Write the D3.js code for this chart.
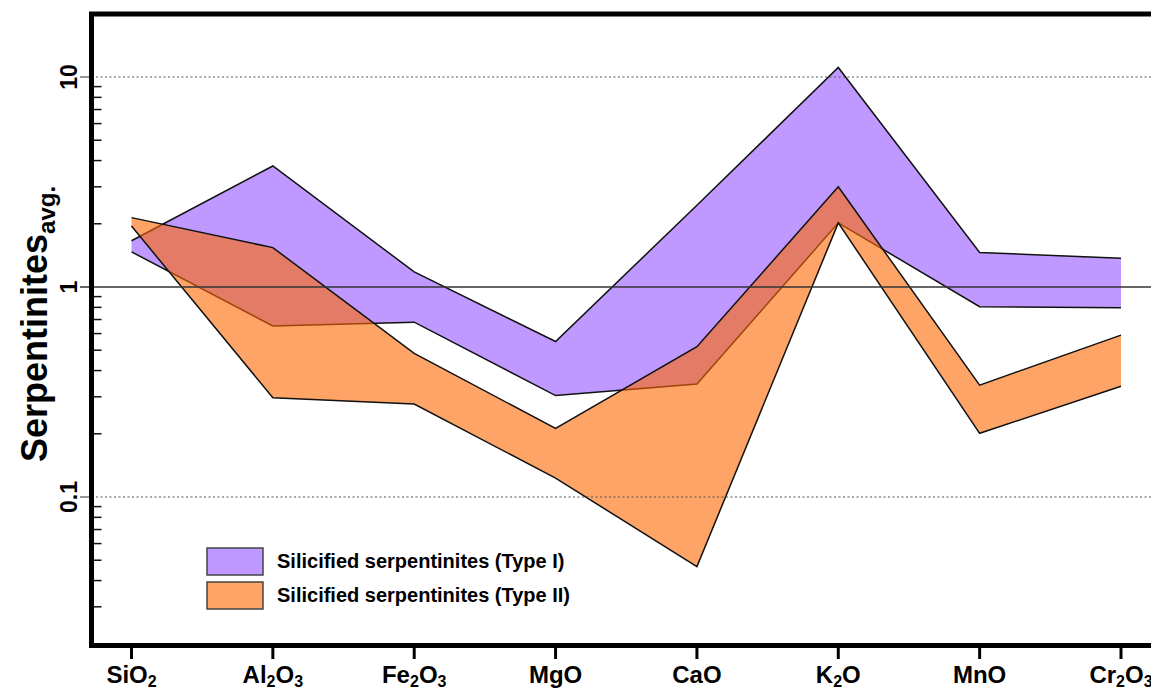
<!DOCTYPE html>
<html>
<head>
<meta charset="utf-8">
<script src="https://cdn.jsdelivr.net/npm/d3@7"></script>
<style>
  body { margin: 0; background: #fff; }
  text { font-family: "Liberation Sans", Arial, sans-serif; font-weight: bold; }
</style>
</head>
<body>
<svg id="chart"></svg>
<script>
const categories = ["SiO2", "Al2O3", "Fe2O3", "MgO", "CaO", "K2O", "MnO", "Cr2O3"];
// Type I band (upper / lower)
const type1_upper = [1.66, 3.77, 1.18, 0.55, 2.45, 11.1, 1.46, 1.37];
const type1_lower = [1.47, 0.652, 0.68, 0.304, 0.345, 2.02, 0.806, 0.797];
// Type II band (upper / lower)
const type2_upper = [2.14, 1.54, 0.483, 0.212, 0.52, 3.0, 0.341, 0.59];
const type2_lower = [1.95, 0.297, 0.277, 0.123, 0.0466, 2.02, 0.201, 0.337];
const major_ticks = [0.1, 1, 10];
const minor_ticks = [0.02, 0.03, 0.04, 0.05, 0.06, 0.07, 0.08, 0.09,
                     0.2, 0.3, 0.4, 0.5, 0.6, 0.7, 0.8, 0.9,
                     2, 3, 4, 5, 6, 7, 8, 9];
const legend_labels = ["Silicified serpentinites (Type I)", "Silicified serpentinites (Type II)"];

const width = 1151;
const height = 690;
const frame_l = 91.5, frame_t = 14, frame_b = 645.5, frame_r = 1175;
const purple = "#bf99ff";
const orange = "rgb(252,103,0)";

var svg = d3.select("#chart").attr("width", width).attr("height", height);

var x = d3.scalePoint().domain(categories).range([131.5, 1121]);
var y = d3.scaleLog().domain([0.1, 10]).range([497, 77]);

function band(upper, lower) {
    return categories.map((c, i) => ({ c: c, hi: upper[i], lo: lower[i] }));
}

var area = d3.area().x(d => x(d.c)).y0(d => y(d.lo)).y1(d => y(d.hi));
var lineHi = d3.line().x(d => x(d.c)).y(d => y(d.hi));
var lineLo = d3.line().x(d => x(d.c)).y(d => y(d.lo));

var b1 = band(type1_upper, type1_lower);
var b2 = band(type2_upper, type2_lower);

svg.append("path").attr("d", area(b1)).attr("fill", purple);
[lineHi, lineLo].forEach(l => svg.append("path").attr("d", l(b1))
    .attr("fill", "none").attr("stroke", "#111").attr("stroke-width", 1.5));

svg.append("path").attr("d", area(b2)).attr("fill", orange).attr("fill-opacity", 0.6);
[lineHi, lineLo].forEach(l => svg.append("path").attr("d", l(b2))
    .attr("fill", "none").attr("stroke", "#111").attr("stroke-width", 1.5));

// reference lines
major_ticks.forEach(function(v) {
    svg.append("line")
        .attr("x1", 80).attr("x2", frame_l).attr("y1", y(v)).attr("y2", y(v))
        .attr("stroke", v == 1 ? "#333" : "#777").attr("stroke-width", 1.5);
    svg.append("line")
        .attr("x1", frame_l).attr("x2", width).attr("y1", y(v)).attr("y2", y(v))
        .attr("stroke", v == 1 ? "#333" : "#555")
        .attr("stroke-width", v == 1 ? 1.5 : 1.2)
        .attr("stroke-dasharray", v == 1 ? null : "2,2.5");
});

// minor ticks on the inside of the y axis
svg.selectAll(".minor").data(minor_ticks).enter().append("line")
    .attr("class", "minor")
    .attr("x1", frame_l).attr("x2", frame_l + 10)
    .attr("y1", d => y(d)).attr("y2", d => y(d))
    .attr("stroke", "#111").attr("stroke-width", 1.5);

// frame
svg.append("rect")
    .attr("x", frame_l).attr("y", frame_t)
    .attr("width", frame_r - frame_l).attr("height", frame_b - frame_t)
    .attr("fill", "none").attr("stroke", "#000").attr("stroke-width", 5);

// x ticks + labels
svg.selectAll(".xtick").data(categories).enter().append("line")
    .attr("class", "xtick")
    .attr("x1", d => x(d)).attr("x2", d => x(d))
    .attr("y1", frame_b).attr("y2", 659)
    .attr("stroke", "#000").attr("stroke-width", 3);

function chemLabel(sel, name, fs, subfs, subdy) {
    var parts = name.match(/[A-Za-z]+|\d+/g);
    var shifted = false;
    parts.forEach(function(p) {
        var isNum = /\d/.test(p);
        var dy = 0;
        if (isNum && !shifted) { dy = subdy; shifted = true; }
        else if (!isNum && shifted) { dy = -subdy; shifted = false; }
        sel.append("tspan")
            .attr("font-size", isNum ? subfs : fs)
            .attr("dy", dy)
            .text(p);
    });
}

categories.forEach(function(c) {
    var t = svg.append("text")
        .attr("x", x(c)).attr("y", 683)
        .attr("text-anchor", "middle")
        .attr("fill", "#000");
    chemLabel(t, c, 24, 16, 4);
});

// y tick labels
major_ticks.forEach(function(v) {
    svg.append("text")
        .attr("transform", `translate(77,${y(v)}) rotate(-90)`)
        .attr("text-anchor", "middle")
        .attr("font-size", 23)
        .text(d3.format("~g")(v));
});

// y title
var title = svg.append("text")
    .attr("transform", "translate(47,462) rotate(-90)")
    .attr("font-size", 36);
title.append("tspan").text("Serpentinites");
title.append("tspan").attr("font-size", 24).attr("dy", 8).text("avg.");

// legend
var legend = svg.selectAll(".legend").data(legend_labels).enter().append("g")
    .attr("class", "legend")
    .attr("transform", (d, i) => `translate(207,${548 + i * 34})`);
legend.append("rect")
    .attr("width", 56).attr("height", 27)
    .attr("fill", (d, i) => i == 0 ? purple : orange)
    .attr("fill-opacity", (d, i) => i == 0 ? 1 : 0.6)
    .attr("stroke", "#444").attr("stroke-width", 1.5);
legend.append("text")
    .attr("x", 70).attr("y", 20)
    .attr("font-size", 20)
    .text(d => d);
</script>
</body>
</html>
